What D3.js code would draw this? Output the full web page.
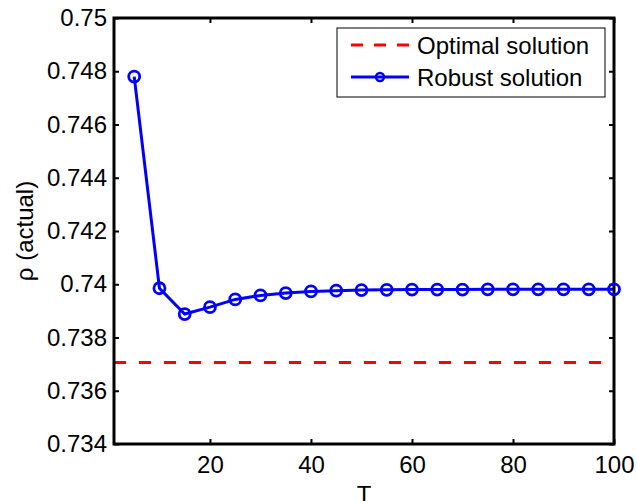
<!DOCTYPE html>
<html>
<head>
<meta charset="utf-8">
<script src="https://cdn.jsdelivr.net/npm/d3@7"></script>
<style>
  body { margin: 0; background: #fff; }
  text { font-family: "Liberation Sans", Arial, Helvetica, sans-serif; }
</style>
</head>
<body>
<div id="chart"></div>
<script>
// data
var T = [5, 10, 15, 20, 25, 30, 35, 40, 45, 50, 55, 60, 65, 70, 75, 80, 85, 90, 95, 100];
var robust = [0.7478, 0.73985, 0.73888, 0.73914, 0.73943, 0.73958, 0.73967, 0.73973, 0.73976, 0.73978,
              0.73979, 0.7398, 0.7398, 0.7398, 0.73981, 0.73981, 0.73981, 0.73981, 0.73981, 0.73981];
var optimal = 0.73706;
var xTicks = [20, 40, 60, 80, 100];
var yTicks = [0.734, 0.736, 0.738, 0.74, 0.742, 0.744, 0.746, 0.748, 0.75];
var seriesNames = ["Optimal solution", "Robust solution"];

var width = 637, height = 501;
var margin = { left: 114, right: 23, top: 18, bottom: 57 };
var iw = width - margin.left - margin.right;
var ih = height - margin.top - margin.bottom;

var x = d3.scaleLinear().domain([1, 100]).range([0, iw]);
var y = d3.scaleLinear().domain([0.734, 0.75]).range([ih, 0]);

var svg = d3.select("#chart").append("svg")
    .attr("width", width)
    .attr("height", height);

var g = svg.append("g")
    .attr("transform", "translate(" + margin.left + "," + margin.top + ")");

// optimal dashed line
g.append("line")
    .attr("x1", x(1)).attr("x2", x(100))
    .attr("y1", y(optimal)).attr("y2", y(optimal))
    .attr("stroke", "#ff0000")
    .attr("stroke-width", 3)
    .attr("stroke-dasharray", "12,13");

// robust line + markers
var line = d3.line()
    .x(function(d, i) { return x(T[i]); })
    .y(function(d) { return y(d); });

g.append("path")
    .datum(robust)
    .attr("d", line)
    .attr("fill", "none")
    .attr("stroke", "#0000ff")
    .attr("stroke-width", 3);

// axes (inside ticks, mirrored)
var fmtY = function(d) { return d3.format("")(+d.toFixed(3)); };

var axL = g.append("g").call(d3.axisLeft(y).tickValues(yTicks).tickSize(-5).tickPadding(7).tickFormat(fmtY));
var axR = g.append("g").attr("transform", "translate(" + iw + ",0)")
    .call(d3.axisRight(y).tickValues(yTicks).tickSize(-5).tickFormat(""));
var axB = g.append("g").attr("transform", "translate(0," + ih + ")")
    .call(d3.axisBottom(x).tickValues(xTicks).tickSize(-5).tickPadding(12));
var axT = g.append("g")
    .call(d3.axisTop(x).tickValues(xTicks).tickSize(-5).tickFormat(""));

[axL, axR, axB, axT].forEach(function(a) {
    a.select(".domain").remove();
    a.selectAll(".tick line").attr("stroke", "#000").attr("stroke-width", 2);
    a.selectAll("text").attr("font-size", 24).attr("fill", "#000")
        .style("font-family", '"Liberation Sans", Arial, sans-serif');
});

g.append("rect")
    .attr("width", iw).attr("height", ih)
    .attr("fill", "none")
    .attr("stroke", "#000")
    .attr("stroke-width", 3);

g.selectAll("circle.pt")
    .data(robust)
    .enter()
    .append("circle")
    .attr("class", "pt")
    .attr("cx", function(d, i) { return x(T[i]); })
    .attr("cy", function(d) { return y(d); })
    .attr("r", 5.5)
    .attr("fill", "none")
    .attr("stroke", "#0000ff")
    .attr("stroke-width", 2.8);

// axis labels
svg.append("text")
    .attr("x", margin.left + iw / 2)
    .attr("y", 503)
    .attr("text-anchor", "middle")
    .attr("font-size", 24)
    .text("T");

svg.append("text")
    .attr("transform", "translate(33," + (margin.top + ih / 2) + ") rotate(-90)")
    .attr("text-anchor", "middle")
    .attr("font-size", 24)
    .text("ρ (actual)");

// legend
var legend = svg.append("g").attr("transform", "translate(337,28)");
legend.append("rect")
    .attr("width", 268).attr("height", 69)
    .attr("fill", "#fff")
    .attr("stroke", "#000")
    .attr("stroke-width", 1);

var rows = legend.selectAll(".legend-item")
    .data(seriesNames)
    .enter()
    .append("g")
    .attr("class", "legend-item")
    .attr("transform", function(d, i) { return "translate(0," + (17 + i * 32) + ")"; });

rows.append("line")
    .attr("x1", 14).attr("x2", 72)
    .attr("stroke", function(d, i) { return i === 0 ? "#ff0000" : "#0000ff"; })
    .attr("stroke-width", 3)
    .attr("stroke-dasharray", function(d, i) { return i === 0 ? "12,11" : null; });

rows.filter(function(d, i) { return i === 1; })
    .append("circle")
    .attr("cx", 43).attr("r", 4)
    .attr("fill", "none")
    .attr("stroke", "#0000ff")
    .attr("stroke-width", 2.5);

rows.append("text")
    .attr("x", 80)
    .attr("y", 9)
    .attr("font-size", 24)
    .text(function(d) { return d; });
</script>
</body>
</html>
